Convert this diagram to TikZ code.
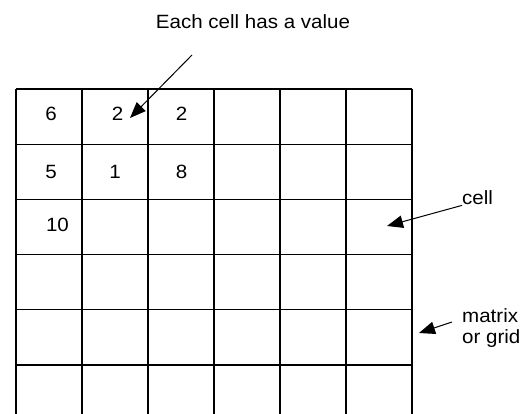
\documentclass[tikz,border=0pt]{standalone}
\usepackage{fontspec}
\setmainfont{Liberation Sans}[FakeStretch=1.07]
\usetikzlibrary{arrows.meta}

\begin{document}
\begin{tikzpicture}[x=1pt, y=-1pt,
  every node/.style={font=\fontsize{19.2}{21.6}\selectfont, inner sep=0pt},
  gridline/.style={line width=1.1pt},
  pointer/.style={line width=1pt, -{Triangle[length=16pt,width=12.5pt]}}]

  \useasboundingbox (0,0) rectangle (531,414);

  % --- Parameter ---
  \def\xzero{16}     % linker Rand des Gitters
  \def\yzero{89}     % oberer Rand des Gitters
  \def\cellw{66}     % Zellenbreite
  \def\cellh{55.2}   % Zellenhoehe

  % --- Gitter (unten offen) ---
  \foreach \i in {0,...,6}
    \draw[gridline] (\xzero+\i*\cellw,\yzero) -- (\xzero+\i*\cellw,414);
  \foreach \j in {0,...,5}
    \draw[gridline] (\xzero,\yzero+\j*\cellh) -- (\xzero+6*\cellw,\yzero+\j*\cellh);

  % --- Werte in den Zellen ---
  \node (v11) at (51.2,114)   {6};
  \node (v12) at (117.5,114)  {2};
  \node (v13) at (181.7,114)  {2};
  \node (v21) at (51.2,171.7) {5};
  \node (v22) at (115,171.7)  {1};
  \node (v23) at (181.5,171.7){8};
  \node (v31) at (57.5,225)   {10};

  % --- Beschriftungen ---
  \node (title) at (253,22) {Each cell has a value};
  \node[anchor=base west] (celllabel) at (462,205) {cell};
  \node[anchor=west, align=left] (gridlabel) at (462,328) {matrix\\or grid};

  % --- Pfeilenden ---
  \coordinate (valuestart) at (192,55);
  \coordinate (valuetip)   at (130,118);
  \coordinate (celltip)    at (387,226);
  \coordinate (gridstart)  at (452,322);
  \coordinate (gridtip)    at (419,333);

  % --- Pfeile ---
  \draw[pointer] (valuestart) -- (valuetip);
  \draw[pointer] (celllabel.south west) -- (celltip);
  \draw[pointer] (gridstart) -- (gridtip);

\end{tikzpicture}
\end{document}
